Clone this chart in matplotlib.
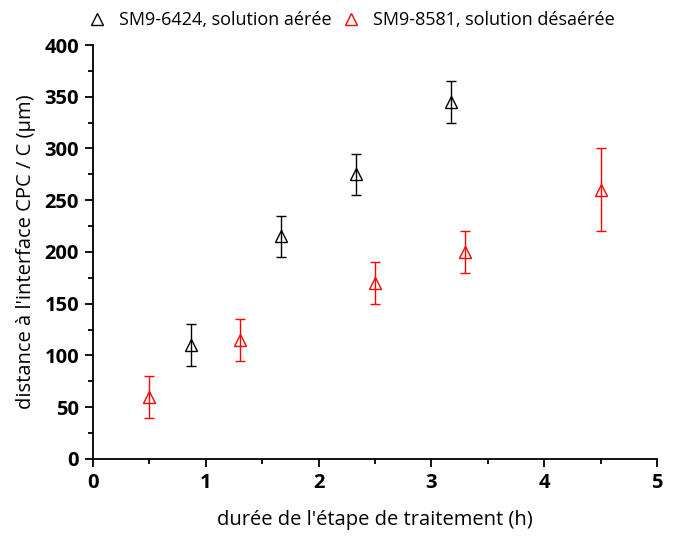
import numpy as np
import matplotlib
matplotlib.use("Agg")
import matplotlib.pyplot as plt
from matplotlib.ticker import MultipleLocator

plt.rcParams['font.family'] = ['Open Sans', 'DejaVu Sans']

# SM9-6424, solution aeree
x_aer = [0.87, 1.67, 2.33, 3.17]
y_aer = [110, 215, 275, 345]
e_aer = [20, 20, 20, 20]

# SM9-8581, solution desaeree
x_des = [0.5, 1.3, 2.5, 3.3, 4.5]
y_des = [60, 115, 170, 200, 260]
e_des = [20, 20, 20, 20, 40]

fig = plt.figure(figsize=(6.81, 5.37), dpi=100)
ax = fig.add_axes([0.1366, 0.1453, 0.8282, 0.7709])

ax.errorbar(x_aer, y_aer, yerr=e_aer, fmt='^', mfc='none', mec='black',
            ms=8, mew=1.0, ecolor='black', elinewidth=1.0, capsize=3.6,
            capthick=1.0, label='SM9-6424, solution aérée')
ax.errorbar(x_des, y_des, yerr=e_des, fmt='^', mfc='none', mec='red',
            ms=8, mew=1.0, ecolor='red', elinewidth=1.0, capsize=3.6,
            capthick=1.0, label='SM9-8581, solution désaérée')

ax.set_xlim(0, 5)
ax.set_ylim(0, 400)
ax.xaxis.set_major_locator(MultipleLocator(1))
ax.xaxis.set_minor_locator(MultipleLocator(0.5))
ax.yaxis.set_major_locator(MultipleLocator(50))
ax.yaxis.set_minor_locator(MultipleLocator(25))
for s in ['top', 'right']:
    ax.spines[s].set_visible(False)
for s in ['left', 'bottom']:
    ax.spines[s].set_linewidth(1.3)
ax.tick_params(which='major', direction='out', length=6, width=1.3,
               labelsize=14.5, pad=4)
ax.tick_params(which='minor', direction='out', length=3.5, width=1.3)
for lab in ax.get_xticklabels() + ax.get_yticklabels():
    lab.set_fontweight('bold')

ax.set_xlabel("durée de l'étape de traitement (h)", fontsize=14.5, labelpad=12)
ax.set_ylabel("distance à l'interface CPC / C (µm)", fontsize=14.5, labelpad=6)

h, l = ax.get_legend_handles_labels()
h = [hh[0] for hh in h]
fig.legend(h, l, loc='upper left', bbox_to_anchor=(0.103, 1.01), ncol=2,
           frameon=False, fontsize=13, handlelength=1.2, columnspacing=0.5,
           handletextpad=0.6)

fig.savefig('out.png', dpi=100)
